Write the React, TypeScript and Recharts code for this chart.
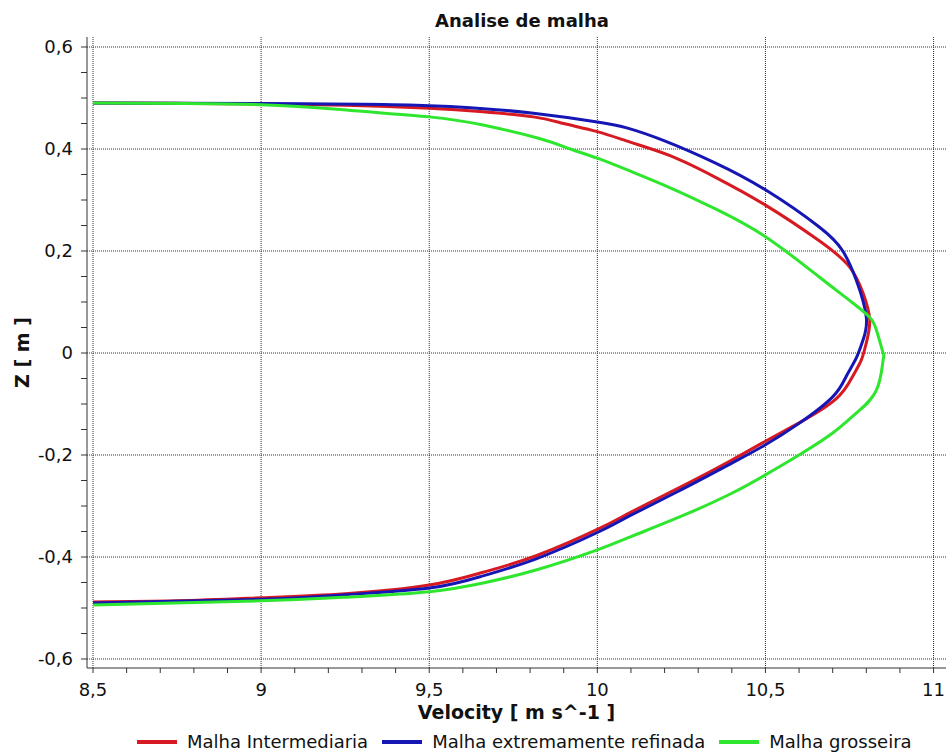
import React from 'react';
import { ScatterChart, Scatter, XAxis, YAxis, CartesianGrid } from 'recharts';

// velocity [m/s] and height Z [m], read top-to-bottom along each profile
const intermediariaV = [8.5, 8.75, 9.0, 9.25, 9.5, 9.66, 9.81, 9.9, 10.0, 10.1, 10.22, 10.35, 10.5, 10.66, 10.75, 10.79, 10.81, 10.8, 10.785, 10.76, 10.71, 10.6, 10.5, 10.4, 10.25, 10.1, 10.0, 9.82, 9.66, 9.5, 9.25, 9.0, 8.75, 8.5];
const intermediariaZ = [0.49, 0.4895, 0.488, 0.486, 0.48, 0.473, 0.463, 0.45, 0.434, 0.413, 0.386, 0.345, 0.29, 0.22, 0.169, 0.118, 0.065, 0.02, -0.014, -0.045, -0.09, -0.137, -0.173, -0.21, -0.262, -0.312, -0.346, -0.397, -0.43, -0.455, -0.472, -0.48, -0.486, -0.488];

const refinadaV = [8.5, 9.0, 9.5, 9.81, 10.0, 10.09, 10.2, 10.35, 10.5, 10.66, 10.73, 10.77, 10.8, 10.79, 10.77, 10.74, 10.7, 10.6, 10.5, 10.4, 10.25, 10.1, 10.0, 9.82, 9.66, 9.5, 9.25, 9.0, 8.5];
const refinadaZ = [0.49, 0.489, 0.485, 0.47, 0.453, 0.441, 0.416, 0.373, 0.32, 0.247, 0.2, 0.143, 0.07, 0.025, -0.01, -0.046, -0.086, -0.138, -0.18, -0.216, -0.268, -0.318, -0.352, -0.403, -0.437, -0.461, -0.474, -0.483, -0.49];

const grosseiraV = [8.5, 9.0, 9.26, 9.5, 9.66, 9.83, 9.92, 10.0, 10.1, 10.22, 10.35, 10.5, 10.66, 10.76, 10.81, 10.83, 10.85, 10.85, 10.83, 10.77, 10.7, 10.6, 10.5, 10.4, 10.25, 10.1, 10.0, 9.82, 9.66, 9.5, 9.25, 9.0, 8.5];
const grosseiraZ = [0.49, 0.487, 0.476, 0.463, 0.447, 0.42, 0.4, 0.382, 0.356, 0.323, 0.283, 0.228, 0.149, 0.098, 0.07, 0.045, 0.0, -0.014, -0.073, -0.118, -0.157, -0.2, -0.239, -0.275, -0.32, -0.36, -0.386, -0.425, -0.451, -0.468, -0.479, -0.486, -0.494];

const velocityTicks = [8.5, 8.6, 8.7, 8.8, 8.9, 9, 9.1, 9.2, 9.3, 9.4, 9.5, 9.6, 9.7, 9.8, 9.9, 10, 10.1, 10.2, 10.3, 10.4, 10.5, 10.6, 10.7, 10.8, 10.9, 11];
const velocityLabels = [8.5, 9, 9.5, 10, 10.5, 11];
const zTicks = [-0.6, -0.55, -0.5, -0.45, -0.4, -0.35, -0.3, -0.25, -0.2, -0.15, -0.1, -0.05, 0, 0.05, 0.1, 0.15, 0.2, 0.25, 0.3, 0.35, 0.4, 0.45, 0.5, 0.55, 0.6];
const zLabels = [-0.6, -0.4, -0.2, 0, 0.2, 0.4, 0.6];

const toPoints = (v: number[], z: number[]) => v.map((val, i) => ({ v: val, z: z[i] }));

const series = [
  { name: 'Malha Intermediaria', color: '#d71a22', data: toPoints(intermediariaV, intermediariaZ) },
  { name: 'Malha extremamente refinada', color: '#1616b4', data: toPoints(refinadaV, refinadaZ) },
  { name: 'Malha grosseira', color: '#2ee62e', data: toPoints(grosseiraV, grosseiraZ) },
];

const FONT = '"DejaVu Sans", Verdana, sans-serif';
const fmt = (n: number) => String(n).replace('.', ',');
const inList = (list: number[], n: number) => list.some((t) => Math.abs(t - n) < 1e-9);

const XTick = (props: any) => {
  const { x, y, payload } = props;
  if (!inList(velocityLabels, payload.value)) return <g />;
  return (
    <text x={x} y={y} dy="0.71em" textAnchor="middle" fontSize={18} fill="#111" fontFamily={FONT}>
      {fmt(payload.value)}
    </text>
  );
};

const YTick = (props: any) => {
  const { x, y, payload } = props;
  if (!inList(zLabels, payload.value)) return <g />;
  return (
    <text x={x} y={y} dy="0.35em" textAnchor="end" fontSize={18} fill="#111" fontFamily={FONT}>
      {fmt(payload.value)}
    </text>
  );
};

const noDot = () => <g />;

export default function App() {
  return (
    <div style={{ position: 'absolute', left: 0, top: 0, width: 946, height: 756, background: '#fff', fontFamily: FONT }}>
      <div
        style={{
          position: 'absolute', left: 522, top: 12, transform: 'translateX(-50%)',
          fontSize: 18, lineHeight: '18px', fontWeight: 'bold', color: '#111', whiteSpace: 'nowrap',
        }}
      >
        Analise de malha
      </div>
      <ScatterChart width={946} height={756} margin={{ top: 37, right: 0, bottom: 0, left: 0 }}>
        <CartesianGrid
          horizontalValues={zLabels}
          verticalValues={velocityLabels}
          stroke="#333"
          strokeDasharray="1 1"
        />
        <XAxis
          type="number"
          dataKey="v"
          domain={[8.5, 11.037]}
          allowDataOverflow
          ticks={velocityTicks}
          interval={0}
          padding={{ left: 6, right: 0 }}
          height={88}
          tickSize={5}
          tickMargin={10}
          tick={XTick}
          axisLine={{ stroke: '#333' }}
          tickLine={{ stroke: '#333' }}
          label={{
            value: 'Velocity [ m s^-1 ]', position: 'insideTop', offset: 38,
            fontSize: 19, fontWeight: 'bold', fill: '#111',
          }}
        />
        <YAxis
          type="number"
          dataKey="z"
          domain={[-0.6, 0.6]}
          allowDataOverflow
          ticks={zTicks}
          interval={0}
          padding={{ top: 10, bottom: 9 }}
          width={87}
          tickSize={6}
          tickMargin={8}
          tick={YTick}
          axisLine={{ stroke: '#333' }}
          tickLine={{ stroke: '#333' }}
          label={{
            value: 'Z [ m ]', angle: -90, position: 'insideLeft', offset: 22,
            fontSize: 19, fontWeight: 'bold', fill: '#111', style: { textAnchor: 'middle' },
          }}
        />
        {series.map((s) => (
          <Scatter
            key={s.name}
            name={s.name}
            data={s.data}
            fill={s.color}
            line={{ stroke: s.color, strokeWidth: 3 }}
            lineType="joint"
            lineJointType="natural"
            shape={noDot}
            isAnimationActive={false}
          />
        ))}
      </ScatterChart>
      <div style={{ position: 'absolute', left: 137, top: 731, display: 'flex', alignItems: 'center', fontSize: 18, color: '#111', whiteSpace: 'nowrap' }}>
        {series.map((s) => (
          <div key={s.name} style={{ display: 'flex', alignItems: 'center', marginRight: 14 }}>
            <div style={{ width: 40, height: 4, background: s.color, marginRight: 10 }} />
            <span>{s.name}</span>
          </div>
        ))}
      </div>
    </div>
  );
}
